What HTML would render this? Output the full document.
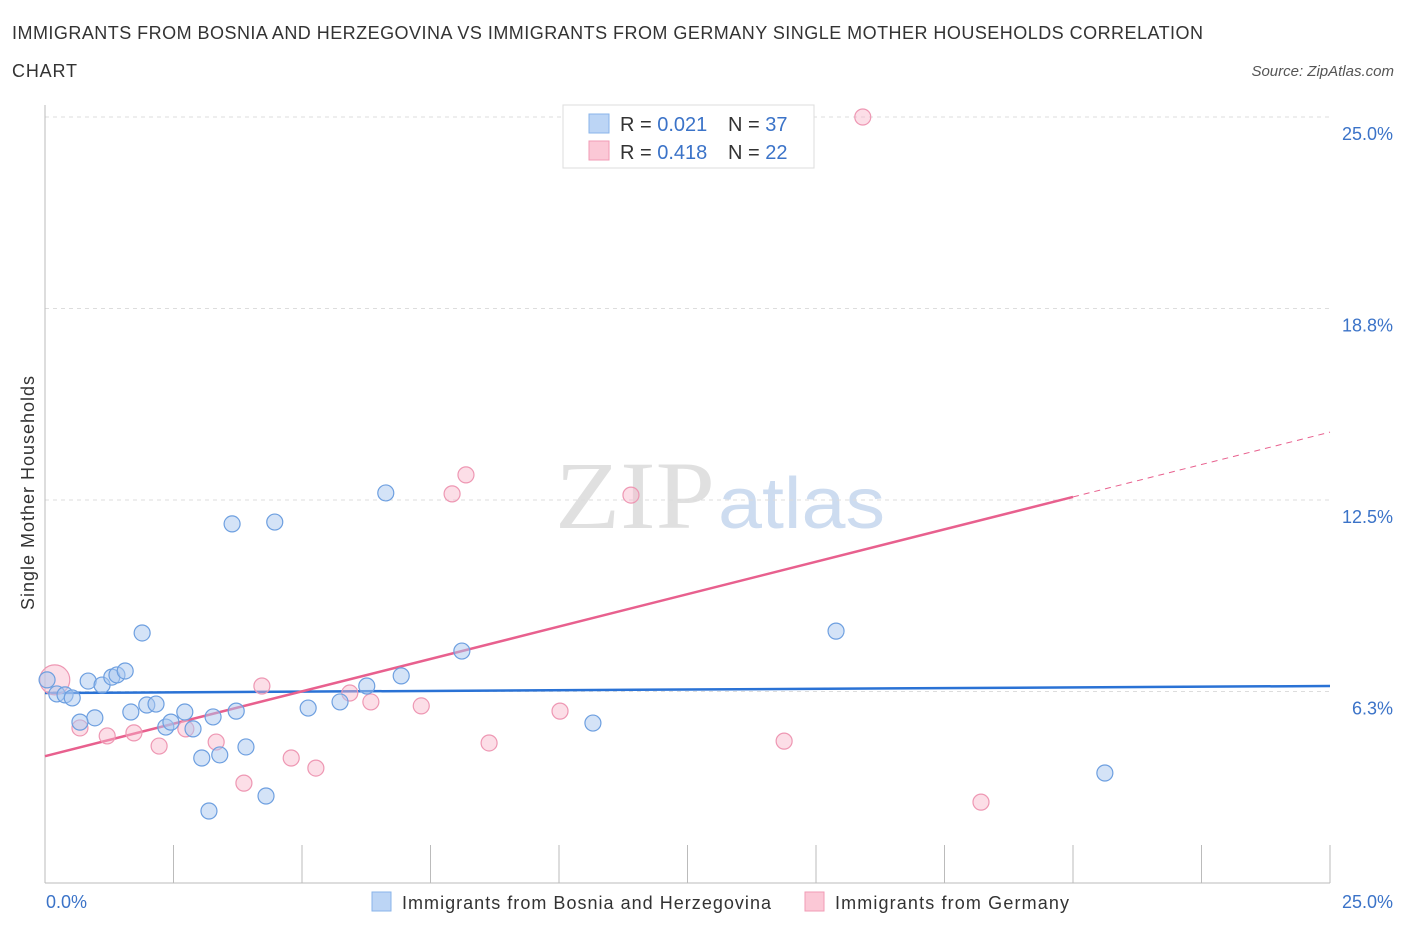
<!DOCTYPE html>
<html><head><meta charset="utf-8"><style>
body{margin:0;background:#fff;font-family:"Liberation Sans",sans-serif;}
svg text{font-family:"Liberation Sans",sans-serif;}
</style></head><body>
<svg id="chart" width="1406" height="930">
<text x="12" y="39" font-size="18" fill="#333" textLength="1191" lengthAdjust="spacing">IMMIGRANTS FROM BOSNIA AND HERZEGOVINA VS IMMIGRANTS FROM GERMANY SINGLE MOTHER HOUSEHOLDS CORRELATION</text>
<text x="12" y="77" font-size="18" fill="#333" textLength="65">CHART</text>
<text x="1394" y="76" font-size="15" font-style="italic" fill="#555" text-anchor="end">Source: ZipAtlas.com</text>
<g>
<text x="555" y="528" font-size="96" style="font-family:'Liberation Serif',serif" fill="#e0e0e0" textLength="160" lengthAdjust="spacingAndGlyphs">ZIP</text>
<text x="718" y="528" font-size="72" fill="#cddcf0" textLength="167" lengthAdjust="spacingAndGlyphs">atlas</text>
</g>
<g id="grid"></g>
<g id="axes"></g>
<g id="trend"></g>
<g id="pts"></g>
<text x="34" y="493" font-size="18" fill="#333" text-anchor="middle" textLength="234" transform="rotate(-90 34 493)">Single Mother Households</text>
<text x="46" y="908" font-size="18" fill="#3b73c8">0.0%</text>
<text x="1393" y="908" font-size="18" fill="#3b73c8" text-anchor="end">25.0%</text>
<g>
<rect x="563" y="105" width="251" height="63" fill="#fff" stroke="#ddd"/>
<rect x="589" y="114" width="20" height="19" fill="#bcd5f5" stroke="#8ab4ea"/>
<rect x="589" y="141" width="20" height="19" fill="#fbc8d6" stroke="#f29bb5"/>
<text x="620" y="131" font-size="20" fill="#333">R = <tspan fill="#3b73c8">0.021</tspan><tspan x="728">N = </tspan><tspan fill="#3b73c8">37</tspan></text>
<text x="620" y="159" font-size="20" fill="#333">R = <tspan fill="#3b73c8">0.418</tspan><tspan x="728">N = </tspan><tspan fill="#3b73c8">22</tspan></text>
</g>
<g>
<rect x="372" y="892" width="19" height="19" fill="#bcd5f5" stroke="#8ab4ea"/>
<text x="402" y="909" font-size="18" fill="#333" textLength="369">Immigrants from Bosnia and Herzegovina</text>
<rect x="805" y="892" width="19" height="19" fill="#fbc8d6" stroke="#f29bb5"/>
<text x="835" y="909" font-size="18" fill="#333" textLength="234">Immigrants from Germany</text>
</g>
</svg>
<script>
const yTicks=[6.25,12.5,18.75,25];
const yTickLabels=["6.3%","12.5%","18.8%","25.0%"];
const blueX=[0.04,0.23,0.39,0.53,0.84,0.97,0.68,1.11,1.30,1.40,1.56,1.67,1.89,1.98,2.16,2.35,2.45,2.72,2.88,3.05,3.27,3.19,3.40,3.64,3.72,3.91,4.30,4.47,5.12,5.74,6.26,6.63,6.93,8.11,10.66,15.39,20.62];
const blueY=[6.63,6.17,6.14,6.04,6.59,5.39,5.25,6.46,6.72,6.79,6.92,5.58,8.16,5.81,5.84,5.09,5.25,5.58,5.03,4.08,5.42,2.35,4.18,11.72,5.61,4.44,2.84,11.78,5.71,5.91,6.43,12.73,6.76,7.57,5.22,8.22,3.59];
const pinkX=[0.19,0.68,1.21,1.73,2.22,2.74,3.33,3.87,4.22,4.79,5.27,5.93,6.34,7.32,7.92,8.19,8.64,10.02,11.40,14.38,15.91,18.21];
const pinkY=[6.63,5.06,4.80,4.90,4.47,5.03,4.60,3.26,6.43,4.08,3.75,6.20,5.91,5.78,12.70,13.32,4.57,5.61,12.66,4.63,25.0,2.64];
const blueTrend=[6.20,6.43];
const pinkTrend=[4.14,0.423];
const NS="http://www.w3.org/2000/svg";
const sx=v=>45+v*51.4, sy=v=>883-v*30.64;
function mk(tag,attrs,parent){const e=document.createElementNS(NS,tag);for(const k in attrs)e.setAttribute(k,attrs[k]);document.getElementById(parent).appendChild(e);return e;}
yTicks.forEach((t,i)=>{
 const l=mk('line',{x1:45,x2:1330,y1:sy(t),y2:sy(t),stroke:'#ddd','stroke-dasharray':'4 4'},'grid');
 
 
 const tx=mk('text',{x:1393,y:sy(t)+23,'font-size':18,fill:'#3b73c8','text-anchor':'end'},'grid');
 tx.textContent=yTickLabels[i];
 
 
});
const ax=mk('line',{x1:45,x2:1330,y1:883,y2:883,stroke:'#bbb'},'axes');


const ay=mk('line',{x1:45,x2:45,y1:105,y2:883,stroke:'#bbb'},'axes');


for(let i=0;i<=10;i++){
 const t=mk('line',{x1:sx(i*2.5),x2:sx(i*2.5),y1:845,y2:883,stroke:'#bbb'},'axes');
 
 
}
const bl=mk('line',{x1:sx(0),x2:sx(25),y1:sy(blueTrend[0]),y2:sy(blueTrend[1]),stroke:'#2a72d5','stroke-width':2.5},'trend');


const pl=mk('line',{x1:sx(0),x2:sx(20),y1:sy(pinkTrend[0]),y2:sy(pinkTrend[0]+20*pinkTrend[1]),stroke:'#e8608e','stroke-width':2.5},'trend');


const pd=mk('line',{x1:sx(20),x2:sx(25),y1:sy(pinkTrend[0]+20*pinkTrend[1]),y2:sy(pinkTrend[0]+25*pinkTrend[1]),stroke:'#e8608e','stroke-width':1,'stroke-dasharray':'6 5'},'trend');


pinkX.forEach((x,i)=>{
 const c=mk('circle',{cx:sx(x),cy:sy(pinkY[i]),r:i===0?15:8,fill:'rgba(249,182,201,0.45)',stroke:'#ee97b3','stroke-width':1.2},'pts');
 
 
});
blueX.forEach((x,i)=>{
 const c=mk('circle',{cx:sx(x),cy:sy(blueY[i]),r:8,fill:'rgba(170,200,240,0.5)',stroke:'#6d9fe0','stroke-width':1.2},'pts');
 
 
});
</script>
</body></html>
